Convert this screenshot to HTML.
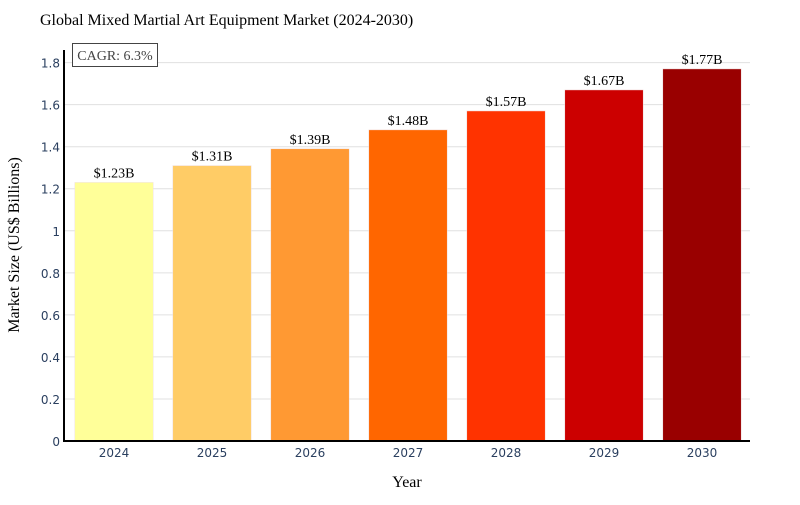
<!DOCTYPE html>
<html><head><meta charset="utf-8"><style>
body{margin:0;background:#fff;}
svg text{font-family:"Liberation Serif",serif;}
</style></head><body>
<svg width="800" height="500" xmlns="http://www.w3.org/2000/svg">
<rect width="800" height="500" fill="#fff"/>
<text x="40" y="25" font-size="16" fill="#000">Global Mixed Martial Art Equipment Market (2024-2030)</text>
<g id="grid"></g>
<g id="bars"></g>
<g id="yticks"></g>
<g id="xticks"></g>
<line x1="64" y1="50" x2="64" y2="442" stroke="#000" stroke-width="2"/>
<line x1="63" y1="441" x2="750" y2="441" stroke="#000" stroke-width="2"/>
<rect x="72.5" y="43.5" width="85" height="23" fill="#fff" stroke="#444" stroke-width="1"/>
<text x="115" y="60" font-size="14" text-anchor="middle" fill="#444">CAGR: 6.3%</text>
<text x="407" y="487" font-size="16" text-anchor="middle" fill="#000">Year</text>
<text transform="translate(19,245) rotate(-90)" font-size="16" text-anchor="middle" fill="#000">Market Size (US$ Billions)</text>
</svg>
<script>
const years=["2024","2025","2026","2027","2028","2029","2030"];
const values=[1.23,1.31,1.39,1.48,1.57,1.67,1.77];
const valueLabels=["$1.23B","$1.31B","$1.39B","$1.48B","$1.57B","$1.67B","$1.77B"];
const yTicks=[0,0.2,0.4,0.6,0.8,1,1.2,1.4,1.6,1.8];
const yTickLabels=["0","0.2","0.4","0.6","0.8","1","1.2","1.4","1.6","1.8"];
const colors=["#ffff99","#ffcc66","#ff9933","#ff6600","#ff3300","#cc0000","#990000"];
const NS="http://www.w3.org/2000/svg";
const x0=65,x1=751,y0=441,yMax=1.86,yTop=50;
const bw=(x1-x0)/years.length;
function xScale(i){return x0+bw*(i+0.5);}
function yScale(v){return y0-(v/yMax)*(y0-yTop);}
function mk(t,a,p){const e=document.createElementNS(NS,t);for(const k in a)e.setAttribute(k,a[k]);p.appendChild(e);return e;}
const grid=document.getElementById('grid'),yt=document.getElementById('yticks');
yTicks.forEach((v,i)=>{
 if(v>0){const l=mk('line',{x1:64,x2:750,y1:yScale(v),y2:yScale(v),stroke:'#e0e0e0','stroke-width':1},grid);
 
 }
 const t=mk('text',{x:60,y:yScale(v)+5,'text-anchor':'end','font-size':12,fill:'#2a3f5f',style:'font-family:"DejaVu Sans",sans-serif'},yt);
 t.textContent=yTickLabels[i];
 
 
});
const bars=document.getElementById('bars'),xt=document.getElementById('xticks');
years.forEach((y,i)=>{
 const w=bw*0.8,cx=xScale(i);
 const r=mk('rect',{x:cx-w/2,y:yScale(values[i]),width:w,height:y0-yScale(values[i]),fill:colors[i],stroke:'#f0e0e0','stroke-width':0.5},bars);
 
 
 const t=mk('text',{x:cx,y:yScale(values[i])-5,'text-anchor':'middle','font-size':14,fill:'#000'},bars);
 t.textContent=valueLabels[i];
 
 
 const xl=mk('text',{x:cx,y:457,'text-anchor':'middle','font-size':12,fill:'#2a3f5f',style:'font-family:"DejaVu Sans",sans-serif'},xt);
 xl.textContent=y;
 
 
});
</script>
</body></html>
